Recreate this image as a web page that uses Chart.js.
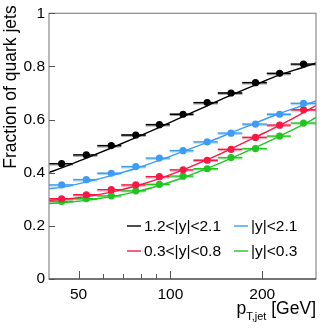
<!DOCTYPE html>
<html>
<head>
<meta charset="utf-8">
<script src="https://cdn.jsdelivr.net/npm/chart.js@4"></script>
<style>
    html, body { margin: 0; padding: 0; background: #fff; }
    #wrap { width: 326px; height: 329px; }
</style>
</head>
<body>
<div id="wrap"><canvas id="chart" width="326" height="329"></canvas></div>
<script>
// ============================================
// DATA
// ============================================

// bin centres and edges in pT (GeV)
const ptCenters = [44, 53, 64, 77, 92, 110, 132, 158, 190, 228, 273];
const binLow    = [40, 48, 57.6, 69, 83, 99.5, 119, 143, 172, 207, 248];
const binHigh   = [48, 57.6, 69, 83, 99.5, 119, 143, 172, 207, 248, 300];

// measured fractions
const fracFwd     = [0.434, 0.467, 0.502, 0.542, 0.581, 0.620, 0.664, 0.700, 0.739, 0.774, 0.809];
const fracAll     = [0.354, 0.374, 0.398, 0.423, 0.455, 0.483, 0.516, 0.549, 0.583, 0.620, 0.661];
const fracMid     = [0.302, 0.317, 0.336, 0.354, 0.385, 0.411, 0.447, 0.488, 0.533, 0.579, 0.637];
const fracCentral = [0.292, 0.302, 0.313, 0.332, 0.356, 0.387, 0.415, 0.457, 0.491, 0.538, 0.587];

const fitX          = [40, 44, 53, 64, 77, 92, 110, 132, 158, 190, 228, 273, 300];
const fitFwd        = [0.401, 0.418, 0.455, 0.493, 0.532, 0.571, 0.611, 0.652, 0.692, 0.731, 0.768, 0.797, 0.813];
const fitAll        = [0.340, 0.345, 0.365, 0.389, 0.416, 0.447, 0.480, 0.514, 0.550, 0.587, 0.623, 0.654, 0.670];
const fitMid        = [0.296, 0.299, 0.310, 0.327, 0.350, 0.378, 0.411, 0.449, 0.490, 0.534, 0.578, 0.626, 0.653];
const fitCentral    = [0.284, 0.287, 0.296, 0.310, 0.328, 0.352, 0.381, 0.416, 0.454, 0.495, 0.538, 0.582, 0.608];

const seriesLabels = ['1.2<|y|<2.1', '|y|<2.1', '0.3<|y|<0.8', '|y|<0.3'];

// axis ticks
const xMajorTicks = [50, 100, 200];
const xMinorTicks = [60, 70, 80, 90];
const yTicks = [0, 0.2, 0.4, 0.6, 0.8, 1];

// ============================================
// STYLE
// ============================================

const COLORS = ['#000000', '#3d9cf5', '#f81846', '#22c422'];
const LIGHT  = ['rgba(0,0,0,0.4)', 'rgba(61,156,245,0.4)', 'rgba(248,24,70,0.4)', 'rgba(34,196,34,0.4)'];
const FONT = 'Liberation Sans, Arial, Helvetica, sans-serif';

const fracs = [fracFwd, fracAll, fracMid, fracCentral];
const fits = [fitFwd, fitAll, fitMid, fitCentral];

const toXY = (xs, ys) => xs.map((x, i) => ({ x: x, y: ys[i] }));

const datasets = [];
fracs.forEach((ys, s) => {
    datasets.push({
        label: seriesLabels[s],
        data: toXY(ptCenters, ys),
        showLine: false,
        pointRadius: 3.6,
        pointBackgroundColor: COLORS[s],
        pointBorderWidth: 0,
        order: 0,
        isPoints: true,
        series: s
    });
});
fits.forEach((ys, s) => {
    datasets.push({
        label: 'fit ' + seriesLabels[s],
        data: toXY(fitX, ys),
        showLine: true,
        borderColor: COLORS[s],
        borderWidth: 1.4,
        pointRadius: 0,
        cubicInterpolationMode: 'monotone',
        order: 1
    });
});

// ============================================
// PLUGIN - frame, ticks, error bars, legend, titles
// ============================================

const rootStyle = {
    id: 'rootStyle',
    beforeDatasetsDraw(chart) {
        const ctx = chart.ctx;
        const xs = chart.scales.x;
        const area = chart.chartArea;
        ctx.save();
        ctx.beginPath();
        ctx.rect(area.left, area.top, area.right - area.left, area.bottom - area.top);
        ctx.clip();
        chart.data.datasets.forEach(ds => {
            if (!ds.isPoints) return;
            const meta = chart.getDatasetMeta(chart.data.datasets.indexOf(ds));
            meta.data.forEach((pt, i) => {
                const x1 = xs.getPixelForValue(binLow[i]);
                const x2 = xs.getPixelForValue(binHigh[i]);
                // lighter band under the bar
                ctx.strokeStyle = LIGHT[ds.series];
                ctx.lineWidth = 2.6;
                ctx.beginPath();
                ctx.moveTo(x1, pt.y + 0.5);
                ctx.lineTo(x2, pt.y + 0.5);
                ctx.stroke();
                ctx.strokeStyle = COLORS[ds.series];
                ctx.lineWidth = 1.3;
                ctx.beginPath();
                ctx.moveTo(x1, pt.y);
                ctx.lineTo(x2, pt.y);
                ctx.stroke();
            });
        });
        ctx.restore();
    },
    afterDraw(chart) {
        const ctx = chart.ctx;
        const xs = chart.scales.x;
        const ys = chart.scales.y;
        const a = chart.chartArea;
        ctx.save();

        // frame
        ctx.strokeStyle = '#8a8a8a';
        ctx.lineWidth = 1.2;
        ctx.strokeRect(a.left, a.top, a.right - a.left, a.bottom - a.top);
        ctx.strokeStyle = '#333';
        ctx.beginPath();
        ctx.moveTo(a.left, a.bottom);
        ctx.lineTo(a.right, a.bottom);
        ctx.stroke();

        // ticks, pointing inward
        ctx.strokeStyle = '#555';
        ctx.lineWidth = 1;
        ctx.beginPath();
        yTicks.forEach(v => {
            const y = Math.round(ys.getPixelForValue(v)) + 0.5;
            ctx.moveTo(a.left, y);
            ctx.lineTo(a.left + 6, y);
        });
        xMajorTicks.forEach(v => {
            const x = Math.round(xs.getPixelForValue(v)) + 0.5;
            ctx.moveTo(x, a.bottom);
            ctx.lineTo(x, a.bottom - 8);
        });
        xMinorTicks.forEach(v => {
            const x = Math.round(xs.getPixelForValue(v)) + 0.5;
            ctx.moveTo(x, a.bottom);
            ctx.lineTo(x, a.bottom - 5);
        });
        ctx.stroke();

        // legend, two columns
        ctx.font = '15.5px ' + FONT;
        ctx.textBaseline = 'middle';
        ctx.textAlign = 'left';
        const cols = [127, 234];
        const rows = [226, 251];
        seriesLabels.forEach((lab, s) => {
            const cx = cols[s % 2];
            const cy = rows[Math.floor(s / 2)];
            ctx.strokeStyle = COLORS[s];
            ctx.lineWidth = 1.4;
            ctx.beginPath();
            ctx.moveTo(cx, cy);
            ctx.lineTo(cx + 14, cy);
            ctx.stroke();
            ctx.fillStyle = '#000';
            ctx.fillText(lab, cx + 17, cy + 0.5);
        });

        // y title, aligned to the top
        ctx.save();
        ctx.translate(16, a.top - 8);
        ctx.rotate(-Math.PI / 2);
        ctx.font = '17.5px ' + FONT;
        ctx.textAlign = 'right';
        ctx.textBaseline = 'alphabetic';
        ctx.fillStyle = '#000';
        ctx.fillText('Fraction of quark jets', 0, 0);
        ctx.restore();

        // x title with subscript, aligned to the right
        ctx.textBaseline = 'alphabetic';
        ctx.textAlign = 'left';
        ctx.fillStyle = '#000';
        const big = '17.5px ' + FONT;
        const small = '11px ' + FONT;
        ctx.font = big;
        const wP = ctx.measureText('p').width;
        const wTail = ctx.measureText(' [GeV]').width;
        ctx.font = small;
        const wSub = ctx.measureText('T,jet').width;
        let x0 = a.right - (wP + wSub + wTail);
        const base = 314;
        ctx.font = big;
        ctx.fillText('p', x0, base);
        ctx.font = small;
        ctx.fillText('T,jet', x0 + wP, base + 6);
        ctx.font = big;
        ctx.fillText(' [GeV]', x0 + wP + wSub, base);

        ctx.restore();
    }
};

// ============================================
// CHART
// ============================================

new Chart(document.getElementById('chart'), {
    type: 'scatter',
    data: { datasets: datasets },
    options: {
        responsive: false,
        animation: false,
        events: [],
        layout: { padding: { top: 10, right: 10, left: 0, bottom: 0 } },
        plugins: {
            legend: { display: false },
            tooltip: { enabled: false }
        },
        scales: {
            x: {
                type: 'logarithmic',
                min: 40,
                max: 300,
                grid: { display: false, drawTicks: false },
                border: { display: false },
                afterBuildTicks: (scale) => {
                    scale.ticks = xMajorTicks.map(v => ({ value: v }));
                },
                afterFit: (scale) => { scale.height = 50; },
                ticks: {
                    autoSkip: false,
                    maxRotation: 0,
                    padding: 6,
                    color: '#000',
                    font: { family: FONT, size: 15.5 },
                    callback: (v) => String(v)
                }
            },
            y: {
                min: 0,
                max: 1,
                grid: { display: false, drawTicks: false },
                border: { display: false },
                afterBuildTicks: (scale) => {
                    scale.ticks = yTicks.map(v => ({ value: v }));
                },
                afterFit: (scale) => { scale.width = 49; },
                ticks: {
                    padding: 4,
                    color: '#000',
                    font: { family: FONT, size: 15.5 },
                    callback: (v) => String(+v.toFixed(1))
                }
            }
        }
    },
    plugins: [rootStyle]
});
</script>
</body>
</html>
